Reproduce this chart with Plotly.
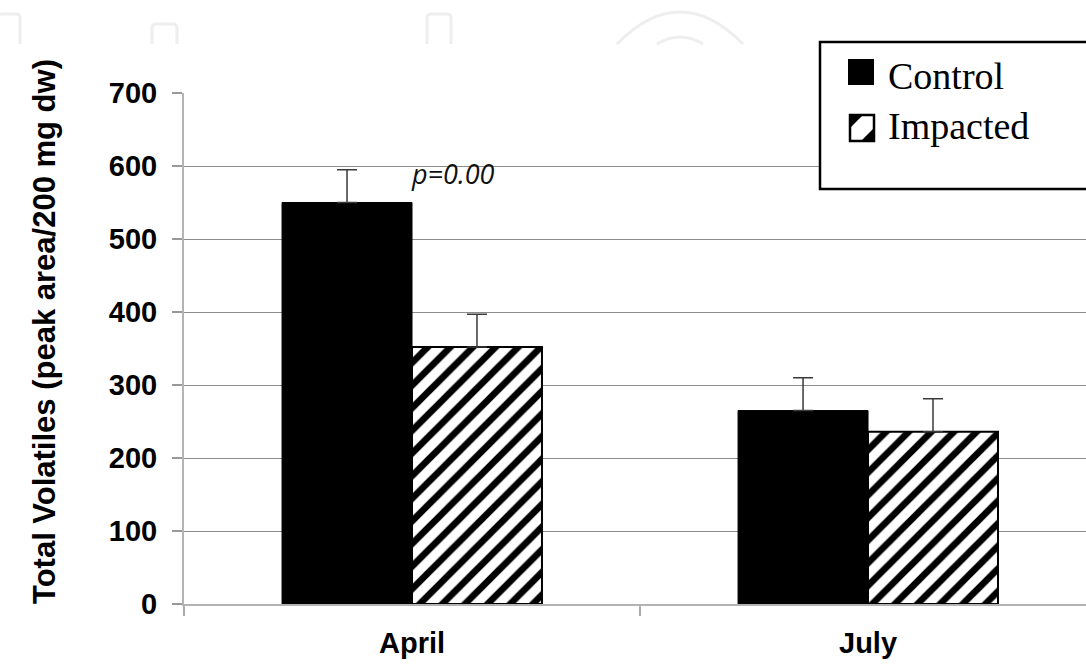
import plotly.graph_objects as go

# Total volatiles by sampling month
months = ["April", "July"]
control = [550, 265]
control_err = [45, 45]
impacted = [352, 236]
impacted_err = [45, 45]
series_names = ["Control", "Impacted"]
p_label = "p=0.00"
y_title = "Total Volatiles (peak area/200 mg dw)"
y_ticks = [0, 100, 200, 300, 400, 500, 600, 700]

W, H = 1086, 664
ML, MR, MT, MB = 184, 0, 93, 60
PW, PH = W - ML - MR, H - MT - MB


def px(x):
    return (x - ML) / PW


def py(y):
    return (H - MB - y) / PH


fig = go.Figure()
fig.add_bar(
    x=months, y=control, name=series_names[0],
    marker=dict(color="black", line=dict(color="black", width=1)),
    error_y=dict(type="data", symmetric=False, array=control_err,
                 arrayminus=[0] * len(control_err),
                 color="#3a3a3a", thickness=1.5, width=10),
    showlegend=False,
)
fig.add_bar(
    x=months, y=impacted, name=series_names[1],
    marker=dict(color="white", line=dict(color="black", width=2),
                pattern=dict(shape="/", fgcolor="black", bgcolor="white",
                             fgopacity=1, size=16, solidity=0.42)),
    error_y=dict(type="data", symmetric=False, array=impacted_err,
                 arrayminus=[0] * len(impacted_err),
                 color="#3a3a3a", thickness=1.5, width=10),
    showlegend=False,
)

shapes = []
# faint page decorations along the top edge
deco = "#eeeeee"
for x0, x1, top in [(-2, 20, 14), (152, 177, 24), (427, 451, 14)]:
    r = 4
    path = (f"M {px(x0)},{py(44)} L {px(x0)},{py(top + r)} "
            f"Q {px(x0)},{py(top)} {px(x0 + r)},{py(top)} "
            f"L {px(x1 - r)},{py(top)} Q {px(x1)},{py(top)} {px(x1)},{py(top + r)} "
            f"L {px(x1)},{py(44)}")
    shapes.append(dict(type="path", xref="paper", yref="paper", path=path,
                       line=dict(color=deco, width=3), layer="below"))
for x0, x1, c in [(617, 743, -20), (657, 703, 30)]:
    path = f"M {px(x0)},{py(44)} Q {px((x0 + x1) / 2)},{py(c)} {px(x1)},{py(44)}"
    shapes.append(dict(type="path", xref="paper", yref="paper", path=path,
                       line=dict(color=deco, width=3), layer="below"))

# legend box
shapes.append(dict(type="rect", xref="paper", yref="paper",
                   x0=px(820), x1=px(1095), y0=py(189), y1=py(42),
                   line=dict(color="black", width=2.5), fillcolor="white"))
# control swatch
shapes.append(dict(type="rect", xref="paper", yref="paper",
                   x0=px(848), x1=px(874), y0=py(85), y1=py(59),
                   line=dict(color="black", width=0), fillcolor="black"))
# impacted swatch: bordered square with one diagonal stripe
sx0, sx1, sy0, sy1 = 850, 874, 115, 141
shapes.append(dict(type="path", xref="paper", yref="paper",
                   path=(f"M {px(sx0)},{py(sy0)} L {px(sx0 + 13)},{py(sy0)} "
                         f"L {px(sx0)},{py(sy0 + 13)} Z"),
                   line=dict(width=0), fillcolor="black"))
shapes.append(dict(type="path", xref="paper", yref="paper",
                   path=(f"M {px(sx1)},{py(sy1)} L {px(sx1 - 13)},{py(sy1)} "
                         f"L {px(sx1)},{py(sy1 - 13)} Z"),
                   line=dict(width=0), fillcolor="black"))
shapes.append(dict(type="rect", xref="paper", yref="paper",
                   x0=px(sx0), x1=px(sx1), y0=py(sy1), y1=py(sy0),
                   line=dict(color="black", width=2.5)))

serif = "Palatino Linotype, Book Antiqua, Liberation Serif, serif"
sans = "Liberation Sans, Arial, sans-serif"
annotations = [
    dict(xref="paper", yref="paper", x=px(886), y=py(76), text=series_names[0],
         showarrow=False, xanchor="left", yanchor="middle",
         font=dict(family=serif, size=38, color="black")),
    dict(xref="paper", yref="paper", x=px(886), y=py(126), text=series_names[1],
         showarrow=False, xanchor="left", yanchor="middle",
         font=dict(family=serif, size=38, color="black")),
    dict(xref="x", yref="y", x=0.09, y=590, text=p_label, showarrow=False,
         xanchor="center", yanchor="middle",
         font=dict(family="Open Sans, DejaVu Sans, sans-serif", size=27,
                   color="#111111", style="italic")),
    # y-axis title
    dict(xref="paper", yref="paper", x=px(44), y=py(332), text=y_title,
         showarrow=False, textangle=-90, xanchor="center", yanchor="middle",
         font=dict(family=sans, size=31, color="black", weight="bold")),
]

fig.update_layout(
    width=W, height=H,
    margin=dict(l=ML, r=MR, t=MT, b=MB, autoexpand=False),
    paper_bgcolor="white", plot_bgcolor="white",
    barmode="group", bargap=0.43, bargroupgap=0,
    shapes=shapes, annotations=annotations,
    xaxis=dict(
        type="category", range=[-0.5, 1.478], showgrid=False,
        showline=True, linecolor="#b3b3b3", linewidth=2,
        ticks="outside", tickson="boundaries", ticklen=10,
        tickcolor="#aaaaaa", tickwidth=1.5, ticklabelstandoff=12,
        tickfont=dict(family=sans, size=29, color="black", weight="bold"),
    ),
    yaxis=dict(
        range=[0, 700], tickvals=y_ticks, showgrid=True,
        gridcolor="#8c8c8c", gridwidth=1, zeroline=False,
        showline=True, linecolor="#b3b3b3", linewidth=2,
        ticks="outside", ticklen=10, tickcolor="#999999", tickwidth=1.5,
        ticklabelstandoff=9,
        tickfont=dict(family=sans, size=29, color="black", weight="bold"),
    ),
)

fig.write_html("out.html")
